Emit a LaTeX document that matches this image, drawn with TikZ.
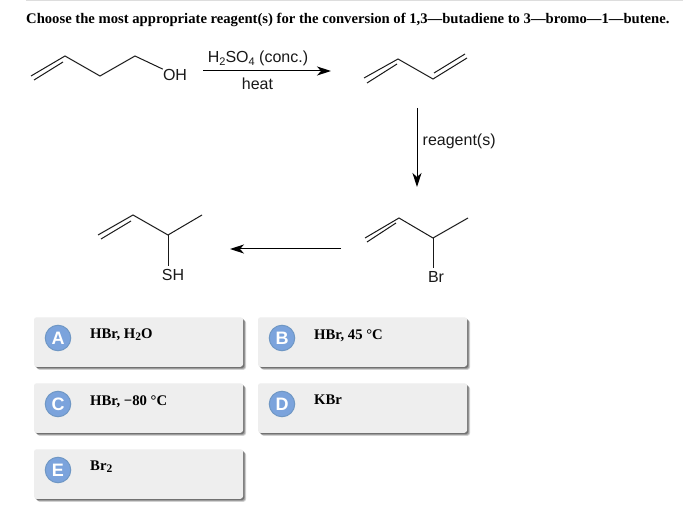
\documentclass[tikz,border=0pt]{standalone}
\usepackage{fontspec}
\setmainfont{Liberation Serif}
\setsansfont{Liberation Sans}
\usetikzlibrary{arrows.meta}
\definecolor{cardfill}{HTML}{EEEEEE}
\definecolor{badgefill}{HTML}{7BA3DC}
\definecolor{badgeedge}{HTML}{6F97C4}
\definecolor{toprule}{HTML}{DDDDDD}
\newcommand{\lowidx}[1]{\raisebox{-0.4ex}{\fontsize{11.5}{12}\selectfont #1}}
\newcommand{\chemidx}[1]{\raisebox{-0.3ex}{\fontsize{11}{12}\selectfont #1}}
\tikzset{
  bond/.style={line width=1pt,black!90},
  rxn/.style={line width=1pt,black,-{Stealth[length=14pt,width=9pt,inset=4pt]}},
  chemlabel/.style={font=\sffamily\fontsize{16}{18}\selectfont,inner sep=0pt,text=black!90},
  cardbox/.style={rounded corners=2.5pt,fill=cardfill,minimum width=209pt,minimum height=49.5pt,inner sep=0pt,
    preaction={fill=black,fill opacity=.18,draw=none,transform canvas={xshift=3pt,yshift=-3pt}},
    preaction={fill=black,fill opacity=.22,draw=none,transform canvas={xshift=2.2pt,yshift=-2.2pt}},
    preaction={fill=black,fill opacity=.30,draw=none,transform canvas={xshift=1.3pt,yshift=-1.3pt}}},
  badge/.style={circle,fill=badgefill,draw=badgeedge,line width=1pt,minimum size=25.5pt,inner sep=0pt,text=white,
    font=\sffamily\bfseries\fontsize{18}{20}\selectfont},
  opttext/.style={anchor=base west,inner sep=0pt,font=\rmfamily\bfseries\fontsize{14.7}{16}\selectfont,text=black}
}
\begin{document}
\begin{tikzpicture}[x=1pt,y=-1pt]
\useasboundingbox (0,0) rectangle (683,513);
\fill[white] (0,0) rectangle (683,513);
\coordinate (ruleL) at (26,0.7);
\coordinate (ruleR) at (683,0.7);
\draw[toprule,line width=1.5pt] (ruleL) -- (ruleR);
\node[anchor=base west,inner sep=0pt,font=\rmfamily\bfseries\fontsize{14.65}{16}\selectfont] (title) at (26,24)
  {Choose the most appropriate reagent(s) for the conversion of 1,3—butadiene to 3—bromo—1—butene.};

% butenol
\coordinate (a1) at (31,76); \coordinate (a2) at (65,56); \coordinate (a3) at (100,76); \coordinate (a4) at (135,56);
\coordinate (a1b) at (34,80); \coordinate (a2b) at (63,62);
\node[chemlabel] (oh) at (175,75) {OH};
\draw[bond] (a1) -- (a2) -- (a3) -- (a4) -- (oh.north west);
\draw[bond] (a1b) -- (a2b);

% conditions
\coordinate (r1s) at (203,71); \coordinate (r1e) at (331,71);
\draw[rxn] (r1s) -- (r1e);
\node[chemlabel] (cond) at (258,58.5) {H\chemidx{2}SO\chemidx{4} (conc.)};
\node[chemlabel] (heat) at (257.5,84) {heat};

% butadiene
\coordinate (b1) at (364,78); \coordinate (b2) at (398,59); \coordinate (b3) at (433,79); \coordinate (b4) at (467,58);
\coordinate (b1b) at (367,83); \coordinate (b2b) at (397,64);
\coordinate (b3b) at (434,73); \coordinate (b4b) at (465,54);
\draw[bond] (b1) -- (b2) -- (b3) -- (b4);
\draw[bond] (b1b) -- (b2b);
\draw[bond] (b3b) -- (b4b);

% reagent arrow
\coordinate (r2s) at (417,108); \coordinate (r2e) at (417,187);
\draw[rxn] (r2s) -- (r2e);
\node[chemlabel,anchor=west] (reag) at (422.5,141) {reagent(s)};

% bromide
\coordinate (d1) at (365,238); \coordinate (d2) at (399,218); \coordinate (d3) at (433,238); \coordinate (d4) at (468,218);
\coordinate (d1b) at (367,242); \coordinate (d2b) at (396,223);
\node[chemlabel] (br) at (436,277) {Br};
\draw[bond] (d1) -- (d2) -- (d3) -- (d4);
\draw[bond] (d1b) -- (d2b);
\coordinate (brtop) at (433,268);
\draw[bond] (d3) -- (brtop);

% arrow
\coordinate (r3s) at (341,249); \coordinate (r3e) at (230,249);
\draw[rxn] (r3s) -- (r3e);

% thiol
\coordinate (c1) at (98,235); \coordinate (c2) at (133,215); \coordinate (c3) at (168,235); \coordinate (c4) at (202,215);
\coordinate (c1b) at (101,239); \coordinate (c2b) at (131,221);
\node[chemlabel] (sh) at (173,275) {SH};
\draw[bond] (c1) -- (c2) -- (c3) -- (c4);
\draw[bond] (c1b) -- (c2b);
\coordinate (shtop) at (168,266);
\draw[bond] (c3) -- (shtop);

% answer cards
\node[cardbox] (cardA) at (138.5,342) {};
\node[cardbox] (cardB) at (362.5,342) {};
\node[cardbox] (cardC) at (138.5,408) {};
\node[cardbox] (cardD) at (362.5,408) {};
\node[cardbox] (cardE) at (138.5,474) {};
\node[badge] (badgeA) at (58,338) {A};
\node[badge] (badgeB) at (282,338) {B};
\node[badge] (badgeC) at (58,404) {C};
\node[badge] (badgeD) at (282,404) {D};
\node[badge] (badgeE) at (58,470) {E};
\node[opttext] (optA) at (90,338) {HBr, H\lowidx{2}O};
\node[opttext] (optB) at (314,339) {HBr, 45 °C};
\node[opttext] (optC) at (90,405) {HBr, −80 °C};
\node[opttext] (optD) at (314,404) {KBr};
\node[opttext] (optE) at (90,470) {Br\lowidx{2}};
\end{tikzpicture}
\end{document}
